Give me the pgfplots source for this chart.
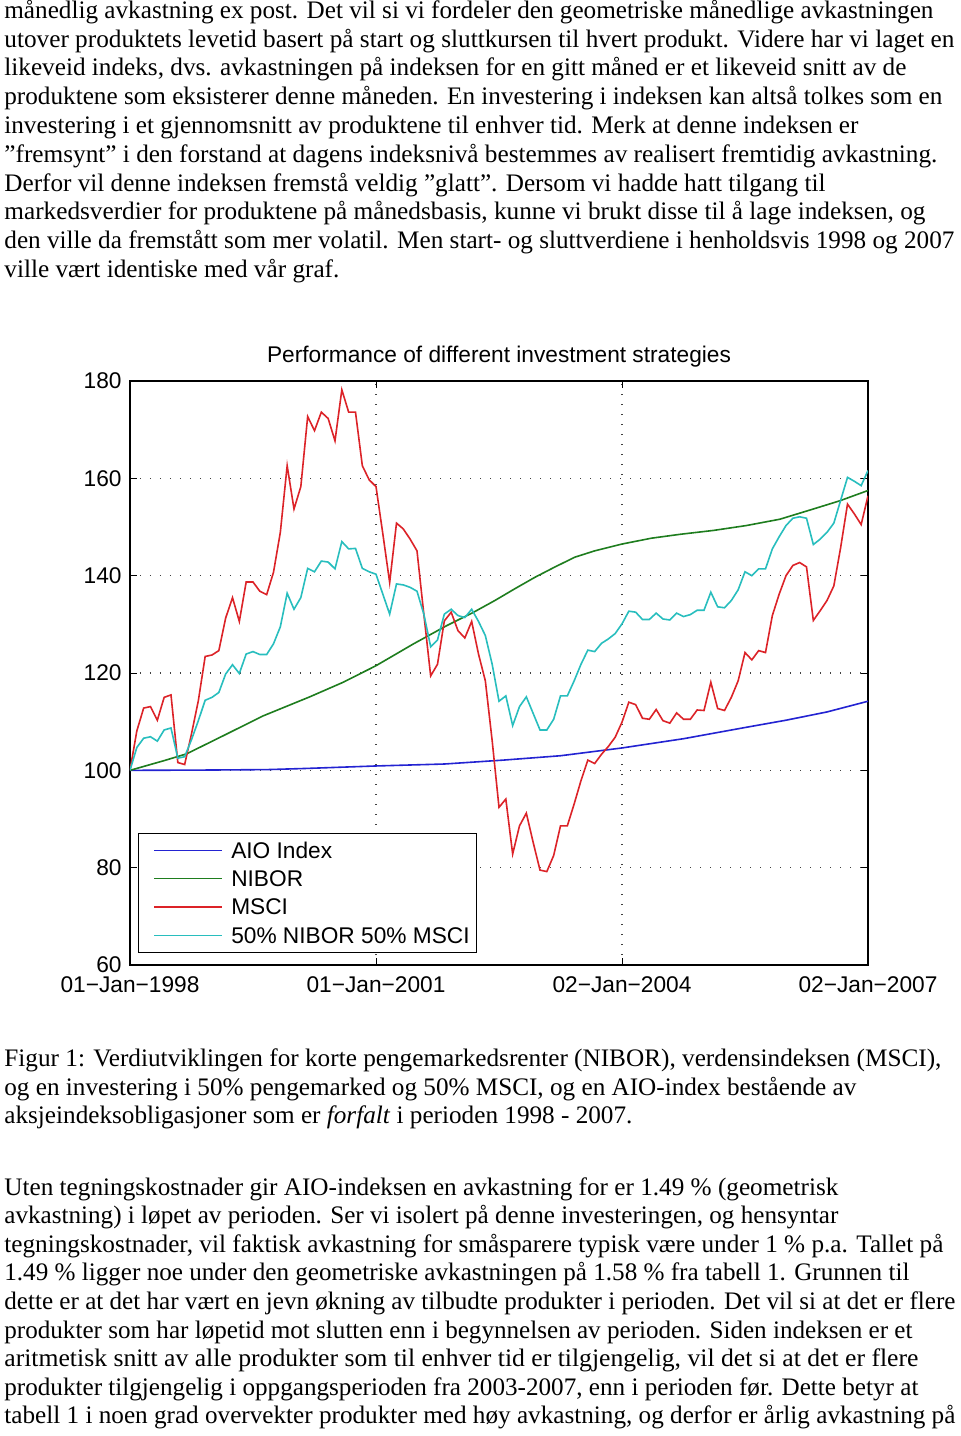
\documentclass[border=0pt]{standalone}
\usepackage{pgfplots}
\pgfplotsset{compat=1.18}
\usepackage{fontspec}
\usepackage{graphicx}
\setmainfont{Liberation Serif}
\newfontfamily\chartfont{Liberation Sans}
\definecolor{cblue}{RGB}{35,35,210}
\definecolor{cgreen}{RGB}{30,125,30}
\definecolor{cred}{RGB}{220,35,40}
\definecolor{ccyan}{RGB}{40,190,190}
\newcommand\tl[3]{\node[anchor=base west,inner sep=0pt,font=\fontsize{12.6}{15}\selectfont] at (2pt,-#1pt) {\resizebox{#2pt}{\height}{#3}};}
\begin{document}
\begin{tikzpicture}
\useasboundingbox[fill=white] (0,0) rectangle (480pt,-718pt);
\tl{9.15}{464.5}{månedlig avkastning ex post. Det vil si vi fordeler den geometriske månedlige avkastningen}
\tl{23.55}{475}{utover produktets levetid basert på start og sluttkursen til hvert produkt. Videre har vi laget en}
\tl{37.95}{451}{likeveid indeks, dvs. avkastningen på indeksen for en gitt måned er et likeveid snitt av de}
\tl{52.35}{469}{produktene som eksisterer denne måneden. En investering i indeksen kan altså tolkes som en}
\tl{66.75}{427}{investering i et gjennomsnitt av produktene til enhver tid. Merk at denne indeksen er}
\tl{81.15}{466.5}{”fremsynt” i den forstand at dagens indeksnivå bestemmes av realisert fremtidig avkastning.}
\tl{95.55}{410.5}{Derfor vil denne indeksen fremstå veldig ”glatt”. Dersom vi hadde hatt tilgang til}
\tl{109.95}{460.5}{markedsverdier for produktene på månedsbasis, kunne vi brukt disse til å lage indeksen, og}
\tl{124.35}{475}{den ville da fremstått som mer volatil. Men start- og sluttverdiene i henholdsvis 1998 og 2007}
\tl{138.75}{167.5}{ville vært identiske med vår graf.}
\tl{533}{468.5}{Figur 1: Verdiutviklingen for korte pengemarkedsrenter (NIBOR), verdensindeksen (MSCI),}
\tl{547.5}{426}{og en investering i 50\% pengemarked og 50\% MSCI, og en AIO-index bestående av}
\tl{561.8}{314}{aksjeindeksobligasjoner som er \textit{forfalt} i perioden 1998 - 2007.}
\tl{597.5}{417}{Uten tegningskostnader gir AIO-indeksen en avkastning for er 1.49 \% (geometrisk}
\tl{611.8}{417}{avkastning) i løpet av perioden. Ser vi isolert på denne investeringen, og hensyntar}
\tl{626.1}{469.5}{tegningskostnader, vil faktisk avkastning for småsparere typisk være under 1 \% p.a. Tallet på}
\tl{640.4}{452.5}{1.49 \% ligger noe under den geometriske avkastningen på 1.58 \% fra tabell 1. Grunnen til}
\tl{654.7}{475.5}{dette er at det har vært en jevn økning av tilbudte produkter i perioden. Det vil si at det er flere}
\tl{669}{454}{produkter som har løpetid mot slutten enn i begynnelsen av perioden. Siden indeksen er et}
\tl{683.3}{457}{aritmetisk snitt av alle produkter som til enhver tid er tilgjengelig, vil det si at det er flere}
\tl{697.6}{457}{produkter tilgjengelig i oppgangsperioden fra 2003-2007, enn i perioden før. Dette betyr at}
\tl{711.9}{475.5}{tabell 1 i noen grad overvekter produkter med høy avkastning, og derfor er årlig avkastning på}
\begin{axis}[
  at={(65pt,-482.5pt)}, anchor=south west,
  width=369pt, height=292pt, scale only axis,
  xmin=0, xmax=108, ymin=60, ymax=180,
  xtick={0,36,72,108},
  xticklabels={01−Jan−1998,01−Jan−2001,02−Jan−2004,02−Jan−2007},
  ytick={60,80,...,180},
  tick align=inside, major tick length=3.5pt,
  grid=major,
  major grid style={black!75, line width=0.55pt, dash pattern=on 0.55pt off 4.45pt},
  axis line style={line width=0.6pt},
  every tick/.style={black, line width=0.5pt},
  font=\chartfont\fontsize{11.35}{13}\selectfont,
  /pgf/number format/assume math mode=true,
  every tick label/.append style={inner sep=0pt, font=\chartfont\fontsize{11.35}{13}\selectfont},
  yticklabel style={xshift=-4pt},
  xticklabel style={yshift=-5.5pt},
  title={Performance of different investment strategies},
  every axis title/.style={at={(0.5,1)}, anchor=base, yshift=9.35pt, inner sep=0pt, font=\chartfont\fontsize{11.35}{13}\selectfont},
  legend style={at={(0.0112,0.021)}, anchor=south west, draw=black, line width=0.6pt,
    inner xsep=3.6pt, inner ysep=2.9pt, row sep=3.2pt,
    font=\chartfont\fontsize{11.35}{13}\selectfont,
    nodes={inner sep=0pt, text height=9.5pt, text depth=1.5pt},
    /tikz/every odd column/.append style={column sep=4.3pt}},
  legend cell align=left,
  legend image code/.code={\path (0pt,0pt); \draw[#1, line width=0.6pt] (3.6pt,0pt) -- (37.6pt,0pt);},
]
\addplot[cblue, line width=0.8pt] coordinates {
(0,100) (10,100.05) (20,100.15) (26,100.4) (36,100.9) (46,101.3) (54.6,102.1) (63,103.0) (72,104.6) (81,106.5) (90,108.8) (96,110.3) (102,112.0) (108,114.2)};
\addlegendentry{AIO Index}
\addplot[cgreen, line width=0.8pt] coordinates {
(0,100) (5,102) (8.3,103.4) (13.2,106.8) (19.5,111.2) (26.3,115.1) (31.2,118.1) (36,121.5) (41.5,126.0) (46.3,129.7) (50.3,132.5) (53.4,134.9) (56.3,137.3) (59.3,139.7) (62.2,141.8) (65.1,143.8) (68,145.1) (72,146.5) (76.3,147.7) (80.5,148.5) (85.4,149.3) (90.2,150.3) (95.1,151.6) (100,153.7) (103.9,155.4) (108,157.5)};
\addlegendentry{NIBOR}
\addplot[cred, line width=0.8pt] coordinates {
(0,100) (1,108.1) (2,112.8) (3,113.1) (4,110.3) (5,115.0) (6,115.5) (7,101.6) (8,101.2) (9,107.5)
(10,114.3) (11,123.4) (12,123.7) (13,124.6) (14,131.3) (15,135.5) (16,130.6) (17,138.7) (18,138.7) (19,136.8)
(20,136.1) (21,140.7) (22,148.9) (23,162.6) (24,153.7) (25,158.3) (26,172.7) (27,169.8) (28,173.6) (29,172.3)
(30,167.7) (31,178.2) (32,173.6) (33,173.6) (34,162.6) (35,159.7) (36,158.3) (37,148.6) (38,138.6) (39,150.8)
(40,149.6) (41,147.5) (42,145.1) (43,132.1) (44,119.4) (45,121.8) (46,130.7) (47,132.5) (48,128.7) (49,127.2)
(50,130.6) (51,123.9) (52,118.4) (53,106.1) (54,92.4) (55,94.1) (56,82.8) (57,88.6) (58,91.2) (59,85.2)
(60,79.5) (61,79.2) (62,82.5) (63,88.6) (64,88.6) (65,93.1) (66,97.9) (67,102.1) (68,101.4) (69,103.3)
(70,104.9) (71,106.8) (72,109.9) (73,114.0) (74,113.5) (75,110.7) (76,110.5) (77,112.5) (78,110.2) (79,109.7)
(80,111.8) (81,110.5) (82,110.5) (83,112.4) (84,112.3) (85,118.1) (86,112.7) (87,112.3) (88,115.0) (89,118.4)
(90,124.2) (91,122.7) (92,124.6) (93,124.2) (94,131.8) (95,136.2) (96,140.0) (97,142.1) (98,142.7) (99,141.8)
(100,130.8) (101,132.8) (102,134.9) (103,137.9) (104,145.8) (105,154.7) (106,152.7) (107,150.5) (108,156.4)};
\addlegendentry{MSCI}
\addplot[ccyan, line width=0.8pt] coordinates {
(0,100) (1,104.7) (2,106.6) (3,106.9) (4,106.0) (5,108.3) (6,108.7) (7,102.5) (8,102.8) (9,106.3)
(10,110.2) (11,114.4) (12,115.0) (13,116.0) (14,119.8) (15,121.7) (16,119.9) (17,123.9) (18,124.4) (19,123.8)
(20,123.8) (21,126.0) (22,129.5) (23,136.4) (24,133.1) (25,135.5) (26,141.5) (27,140.8) (28,143.0) (29,142.8)
(30,141.4) (31,147.0) (32,145.5) (33,145.6) (34,141.5) (35,140.8) (36,140.3) (37,136.2) (38,132.1) (39,138.3)
(40,138.1) (41,137.6) (42,136.8) (43,132.1) (44,125.4) (45,126.8) (46,132.1) (47,133.1) (48,131.8) (49,131.4)
(50,133.1) (51,130.6) (52,127.7) (53,121.8) (54,114.2) (55,115.3) (56,109.2) (57,113.1) (58,115.1) (59,111.7)
(60,108.3) (61,108.3) (62,110.5) (63,115.3) (64,115.3) (65,118.4) (66,121.8) (67,124.7) (68,124.4) (69,126.1)
(70,127.0) (71,128.1) (72,130.1) (73,132.7) (74,132.5) (75,131.0) (76,131.0) (77,132.3) (78,131.1) (79,130.9)
(80,132.3) (81,131.6) (82,132.0) (83,132.9) (84,132.9) (85,136.6) (86,133.6) (87,133.4) (88,134.9) (89,137.1)
(90,140.8) (91,140.0) (92,141.4) (93,141.4) (94,145.5) (95,148.0) (96,150.3) (97,151.8) (98,152.1) (99,151.8)
(100,146.4) (101,147.5) (102,148.9) (103,150.8) (104,155.5) (105,160.2) (106,159.4) (107,158.5) (108,161.6)};
\addlegendentry{50\% NIBOR 50\% MSCI}
\end{axis}
\end{tikzpicture}
\end{document}
